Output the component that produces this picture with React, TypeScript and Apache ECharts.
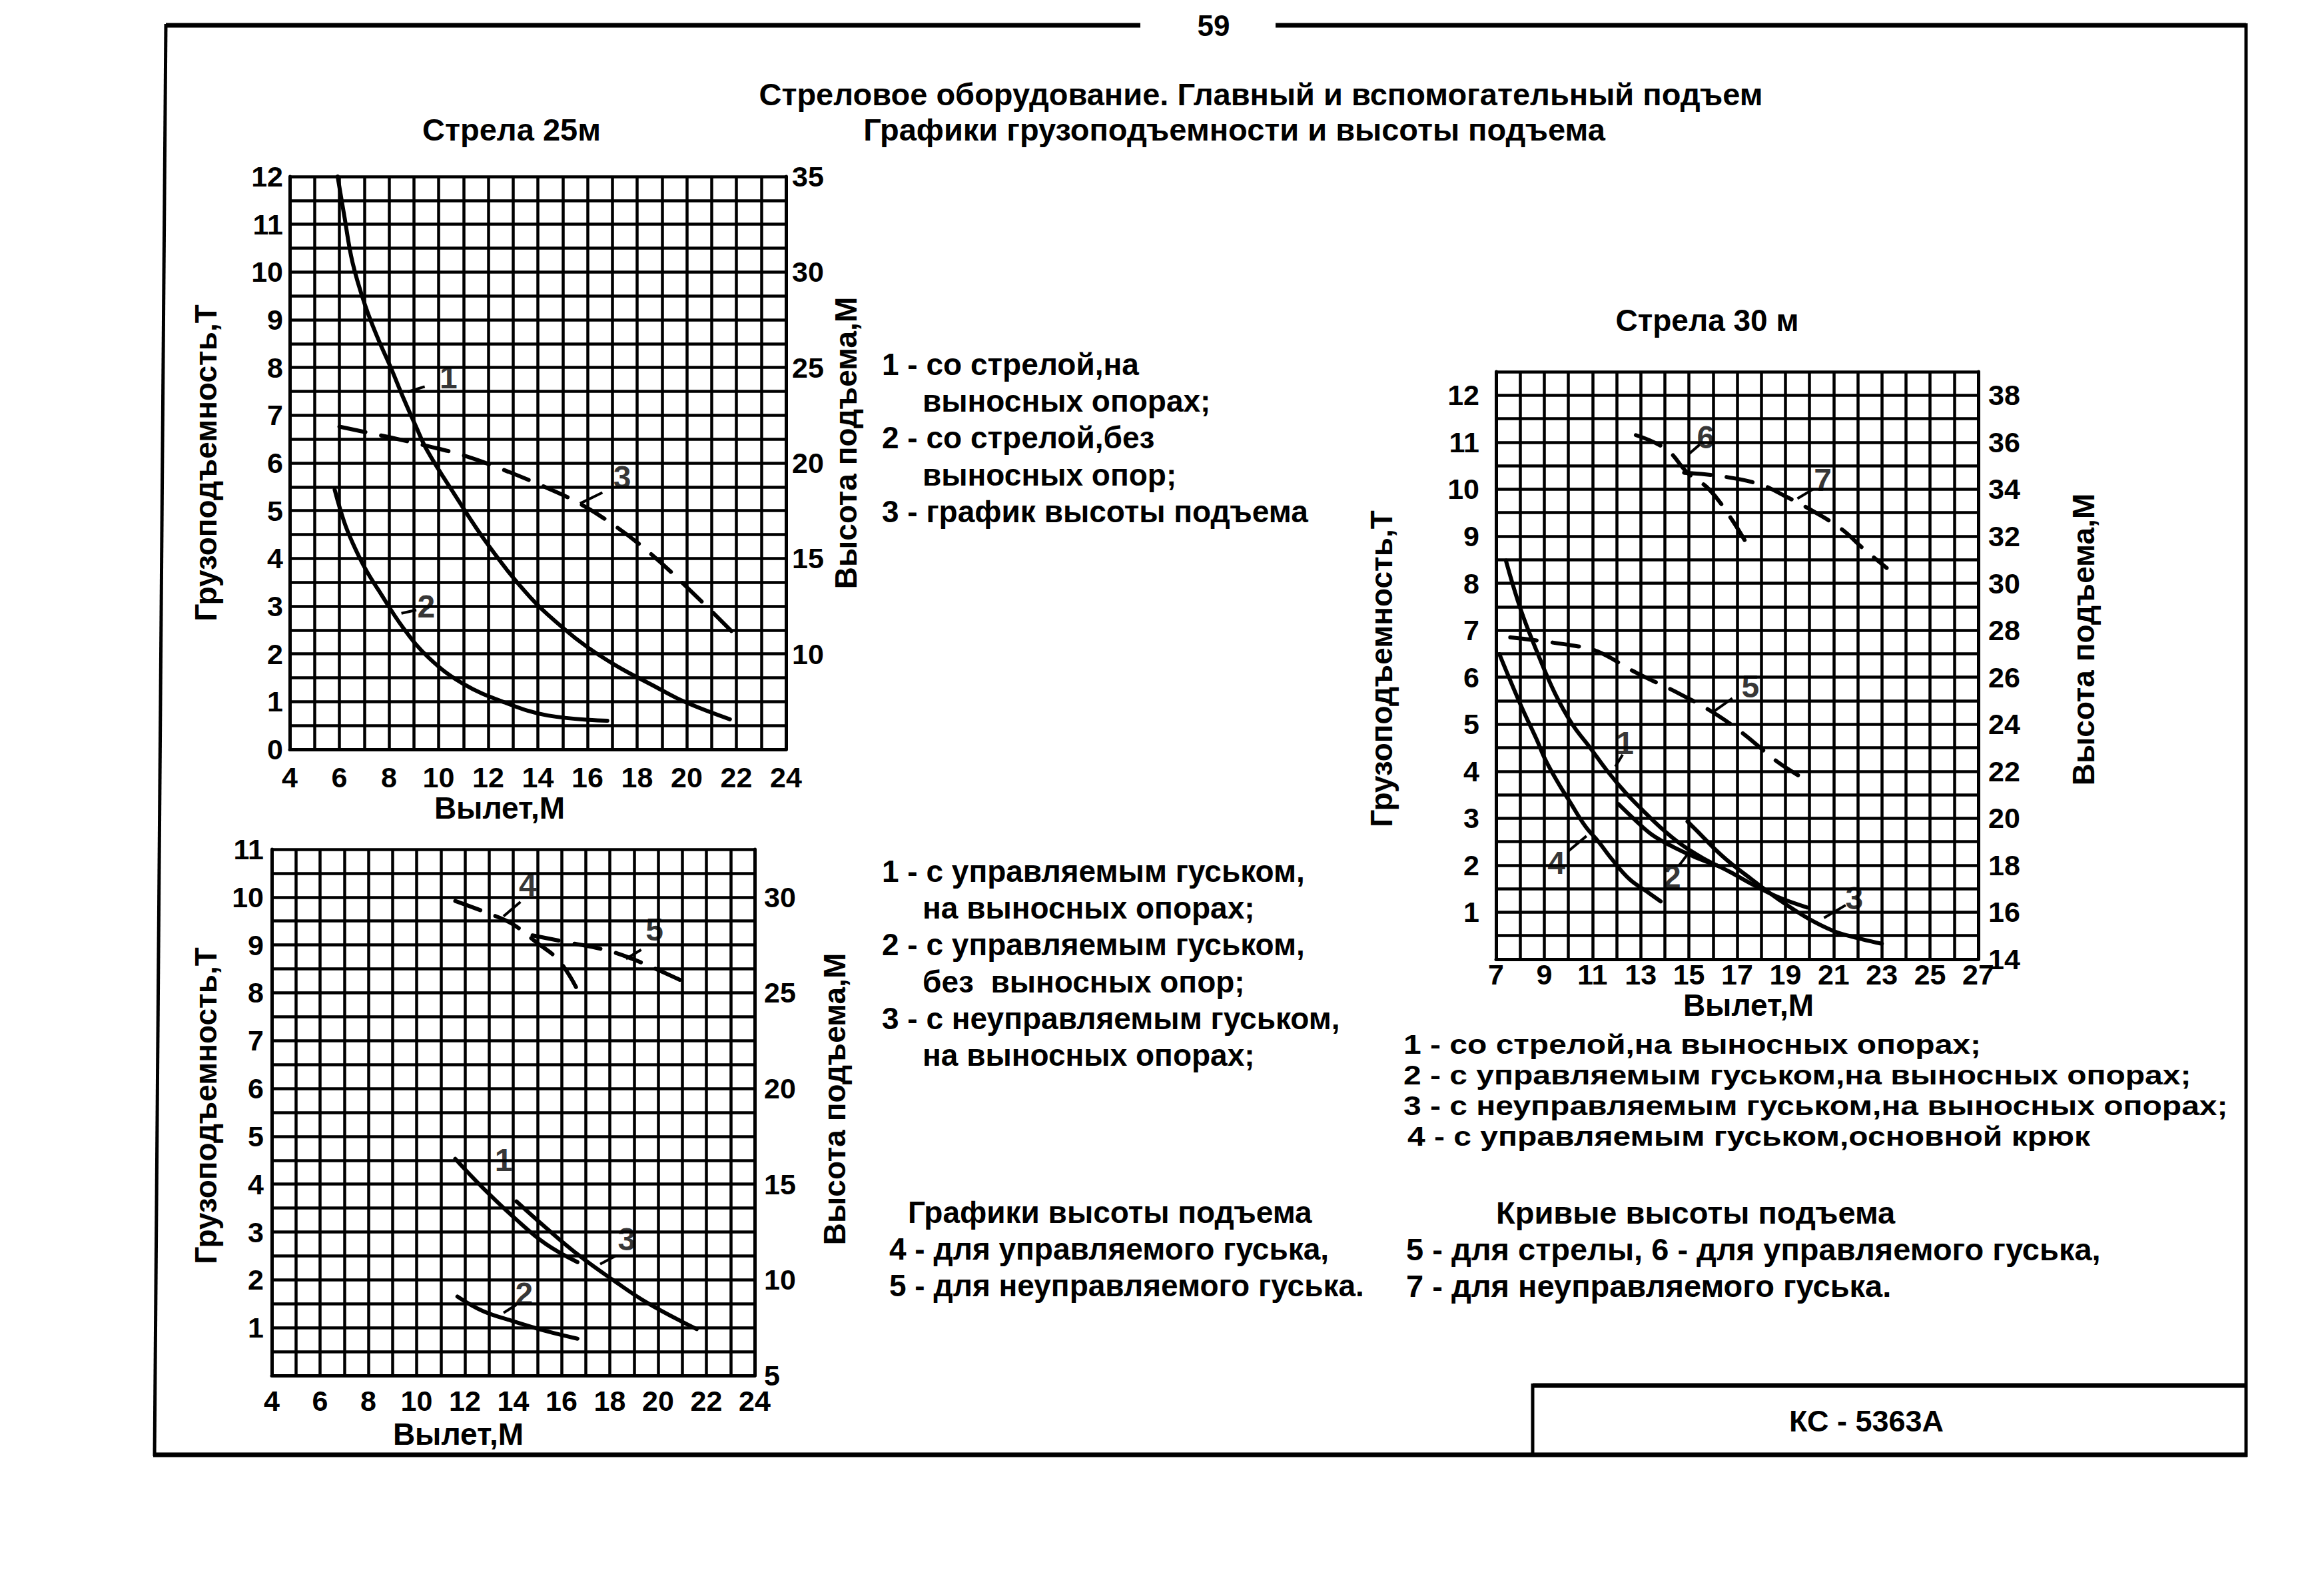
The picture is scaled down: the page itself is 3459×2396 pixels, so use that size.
import React, { useEffect, useRef } from "react";
import * as echarts from "echarts";

const FONT = '"Liberation Sans", Arial, Helvetica, sans-serif';

// ---------------- Chart 1: Стрела 25м (x: вылет, м; left: т; right: высота, м) ----------------
const c1Load1 = [[5.93, 12.0], [6.19, 11.2], [6.53, 10.2], [7.04, 9.3], [7.56, 8.6], [8.07, 8.0], [8.58, 7.36], [9.09, 6.76], [9.55, 6.25], [10.63, 5.35], [12.0, 4.28], [13.7, 3.18], [15.0, 2.55], [16.0, 2.14], [17.2, 1.74], [18.6, 1.35], [19.9, 1.0], [21.74, 0.63]];
const c1Load2 = [[5.81, 5.44], [6.19, 4.77], [6.53, 4.33], [7.04, 3.79], [7.56, 3.35], [8.58, 2.54], [9.6, 1.92], [10.97, 1.38], [12.68, 0.98], [14.4, 0.71], [16.8, 0.6]];
const c1Height3 = [[6.0, 21.9], [8.0, 21.35], [9.5, 20.9], [11.0, 20.4], [12.5, 19.7], [14.0, 18.9], [15.5, 18.0], [17.0, 16.8], [18.5, 15.3], [20.0, 13.5], [21.8, 11.2]];
const c1Marks = [{ t: "1", x: 10.4, y: 7.8 }, { t: "2", x: 9.5, y: 3.0 }, { t: "3", x: 17.4, y: 5.7 }];
const c1Leaders = [[[8.75, 7.49], [9.44, 7.6]], [[8.5, 2.85], [9.1, 2.92]], [[15.7, 5.15], [16.6, 5.38]]];

// ---------------- Chart 2: гусёк (bottom left) ----------------
const c2Load1 = [[11.6, 4.53], [12.73, 3.93], [14.13, 3.26], [15.35, 2.75], [16.66, 2.37]];
const c2Load2 = [[11.69, 1.65], [12.73, 1.35], [13.96, 1.14], [15.35, 0.93], [16.66, 0.77]];
const c2Load3 = [[14.13, 3.64], [15.35, 3.09], [16.75, 2.5], [18.15, 1.99], [19.55, 1.52], [21.6, 0.97]];
const c2Height4 = [[11.6, 29.8], [13.08, 29.1], [13.96, 28.6], [15.0, 27.6], [15.88, 26.7], [16.6, 25.3]];
const c2Height5 = [[14.8, 28.0], [16.4, 27.6], [17.62, 27.3], [18.67, 26.9], [19.9, 26.25], [21.2, 25.5]];
const c2Marks = [{ t: "4", x: 14.6, y: 10.25 }, { t: "5", x: 19.85, y: 9.32 }, { t: "1", x: 13.6, y: 4.5 }, { t: "2", x: 14.45, y: 1.7 }, { t: "3", x: 18.7, y: 2.85 }];
const c2Leaders = [[[13.6, 9.6], [14.3, 9.9]], [[18.67, 8.71], [19.3, 8.9]], [[13.6, 1.31], [14.13, 1.48]], [[17.6, 2.33], [18.24, 2.5]]];

// ---------------- Chart 3: Стрела 30 м ----------------
const c3Load1 = [[7.41, 8.48], [8.03, 7.43], [8.74, 6.49], [9.45, 5.65], [10.16, 5.0], [10.9, 4.5], [11.62, 4.0], [12.36, 3.55], [13.1, 3.16], [13.83, 2.8], [14.66, 2.45], [15.58, 2.15], [16.69, 1.86], [17.6, 1.6], [18.7, 1.32], [19.9, 1.1]];
const c3Load2 = [[12.08, 3.3], [12.73, 2.98], [13.46, 2.65], [14.38, 2.38], [15.4, 2.14], [16.4, 1.95]];
const c3Load3 = [[14.94, 2.93], [15.49, 2.65], [16.04, 2.36], [16.69, 2.06], [17.6, 1.7], [18.7, 1.28], [19.9, 0.88], [21.0, 0.6], [22.0, 0.45], [23.0, 0.33]];
const c3Load4 = [[7.14, 6.49], [8.03, 5.4], [8.68, 4.68], [9.04, 4.25], [9.6, 3.73], [10.06, 3.35], [10.7, 2.83], [11.25, 2.5], [11.8, 2.13], [12.54, 1.7], [13.28, 1.43], [13.83, 1.23]];
const c3Height5 = [[7.59, 27.7], [10.16, 27.35], [11.2, 27.1], [12.8, 26.2], [14.6, 25.3], [16.0, 24.5], [17.25, 23.6], [18.67, 22.4], [19.9, 21.6]];
const c3Height6 = [[12.8, 36.3], [14.06, 35.7], [14.94, 34.7], [15.83, 34.0], [16.72, 32.8], [17.5, 31.5]];
const c3Height7 = [[14.8, 34.7], [16.36, 34.55], [17.96, 34.2], [19.0, 33.7], [20.09, 33.1], [21.33, 32.3], [22.2, 31.5], [23.2, 30.65]];
const c3Marks = [{ t: "1", x: 12.35, y: 4.6 }, { t: "2", x: 14.3, y: 1.75 }, { t: "3", x: 21.86, y: 1.29 }, { t: "4", x: 9.5, y: 2.05 }, { t: "5", x: 17.55, y: 5.8 }, { t: "6", x: 15.7, y: 11.1 }, { t: "7", x: 20.55, y: 10.2 }];
const c3Leaders = [[[11.95, 4.1], [12.25, 4.35]], [[14.6, 2.0], [15.0, 2.27]], [[20.6, 0.88], [21.5, 1.15]], [[10.0, 2.3], [10.75, 2.62]], [[16.0, 5.26], [16.8, 5.55]], [[15.0, 10.75], [15.45, 10.95]], [[19.5, 9.8], [20.15, 10.0]]];

// ---------------- texts ----------------
const legendA = ["1 - со стрелой,на", "выносных опорах;", "2 - со стрелой,без", "выносных опор;", "3 - график высоты подъема"];
const legendB = ["1 - с управляемым гуськом,", "на выносных опорах;", "2 - с управляемым гуськом,", "без  выносных опор;", "3 - с неуправляемым гуськом,", "на выносных опорах;"];
const legendC = ["Графики высоты подъема", "4 - для управляемого гуська,", "5 - для неуправляемого гуська."];
const legendD = ["1 - со стрелой,на выносных опорах;", "2 - с управляемым гуськом,на выносных опорах;", "3 - с неуправляемым гуськом,на выносных опорах;", "4 - с управляемым гуськом,основной крюк"];
const legendE = ["Кривые высоты подъема", "5 - для стрелы, 6 - для управляемого гуська,", "7 - для неуправляемого гуська."];

const BLACK = "#000";
const GRID_W = 4.5;
const CURVE_W = 6;

function txt(text: string, x: number, y: number, opts: any = {}) {
  const align = opts.align || "left";
  return {
    type: "text",
    x,
    y,
    rotation: opts.rotation || 0,
    scaleX: opts.scaleX || 1,
    scaleY: 1,
    silent: true,
    style: {
      text,
      fill: BLACK,
      fontSize: opts.size || 46,
      lineHeight: 40,
      fontWeight: "bold",
      fontFamily: FONT,
      align,
      textAlign: align,
      verticalAlign: "middle",
      textVerticalAlign: "middle",
    },
  };
}

function ln(x1: number, y1: number, x2: number, y2: number, w: number) {
  return { type: "line", silent: true, shape: { x1, y1, x2, y2 }, style: { stroke: BLACK, lineWidth: w } };
}

function xAx(gridIndex: number, min: number, max: number, margin: number) {
  return {
    type: "value",
    gridIndex,
    min,
    max,
    interval: 2,
    axisLine: { show: true, onZero: false, lineStyle: { color: BLACK, width: 5 } },
    axisTick: { show: false },
    axisLabel: { color: BLACK, fontSize: 43, lineHeight: 36, fontWeight: "bold", fontFamily: FONT, margin },
    splitLine: { show: true, lineStyle: { color: BLACK, width: GRID_W } },
    minorTick: { show: false, splitNumber: 2 },
    minorSplitLine: { show: true, lineStyle: { color: BLACK, width: GRID_W } },
  };
}

function yAx(gridIndex: number, position: string, min: number, max: number, interval: number, margin: number, fmt: (v: number) => string, split: boolean, minor: boolean) {
  return {
    type: "value",
    gridIndex,
    position,
    min,
    max,
    interval,
    axisLine: { show: true, onZero: false, lineStyle: { color: BLACK, width: 5 } },
    axisTick: { show: false },
    axisLabel: { color: BLACK, fontSize: 43, lineHeight: 36, fontWeight: "bold", fontFamily: FONT, margin, formatter: fmt },
    splitLine: { show: split, lineStyle: { color: BLACK, width: GRID_W } },
    minorTick: { show: false, splitNumber: 2 },
    minorSplitLine: { show: minor, lineStyle: { color: BLACK, width: GRID_W } },
  };
}

function curve(data: number[][], xi: number, yi: number, dashed: boolean) {
  return {
    type: "line",
    xAxisIndex: xi,
    yAxisIndex: yi,
    data,
    smooth: 0.4,
    symbol: "none",
    silent: true,
    z: 5,
    lineStyle: { color: BLACK, width: CURVE_W, type: dashed ? [40, 24] : "solid", cap: "round" },
  };
}

function marks(list: { t: string; x: number; y: number }[], xi: number, yi: number) {
  return {
    type: "scatter",
    xAxisIndex: xi,
    yAxisIndex: yi,
    symbolSize: 1,
    silent: true,
    z: 6,
    itemStyle: { color: "rgba(0,0,0,0)" },
    data: list.map((m) => ({ value: [m.x, m.y], name: m.t })),
    label: { show: true, position: "inside", formatter: "{b}", color: BLACK, fontSize: 48, lineHeight: 40, fontWeight: "bold", fontFamily: FONT },
  };
}

function leaders(list: number[][][], xi: number, yi: number) {
  return list.map((seg) => ({
    type: "line",
    xAxisIndex: xi,
    yAxisIndex: yi,
    data: seg,
    symbol: "none",
    silent: true,
    z: 5,
    lineStyle: { color: BLACK, width: 4 },
  }));
}

function buildOption() {
  const plain = (v: number) => String(v);
  const graphic: any[] = [];

  // document frame
  graphic.push(ln(249, 38, 1712, 38, 7));
  graphic.push(ln(1915, 38, 3372, 38, 7));
  graphic.push(ln(249, 36, 232, 2186, 5));
  graphic.push(ln(230, 2184, 3374, 2184, 7));
  graphic.push(ln(3372, 35, 3372, 2187, 5));
  graphic.push(ln(2301, 2080, 3372, 2080, 7));
  graphic.push(ln(2301, 2077, 2301, 2184, 5));
  graphic.push(txt("59", 1822, 38, { align: "center", size: 44 }));
  graphic.push(txt("КС - 5363А", 2802, 2133, { align: "center", size: 45 }));

  // titles
  graphic.push(txt("Стреловое оборудование. Главный и вспомогательный подъем", 1893, 141, { align: "center", size: 47 }));
  graphic.push(txt("Графики грузоподъемности и высоты подъема", 1853, 194, { align: "center", size: 47 }));
  graphic.push(txt("Стрела 25м", 768, 194, { align: "center", size: 47 }));
  graphic.push(txt("Стрела 30 м", 2563, 481, { align: "center", size: 46 }));

  // axis names
  const R = Math.PI / 2;
  graphic.push(txt("Грузоподъемность,Т", 309, 695, { align: "center", rotation: R }));
  graphic.push(txt("Высота подъема,М", 1270, 665, { align: "center", rotation: R }));
  graphic.push(txt("Вылет,М", 750, 1213, { align: "center" }));
  graphic.push(txt("Грузоподъемность,Т", 309, 1660, { align: "center", rotation: R }));
  graphic.push(txt("Высота подъема,М", 1253, 1650, { align: "center", rotation: R }));
  graphic.push(txt("Вылет,М", 688, 2153, { align: "center" }));
  graphic.push(txt("Грузоподъемность,Т", 2074, 1004, { align: "center", rotation: R }));
  graphic.push(txt("Высота подъема,М", 3128, 960, { align: "center", rotation: R }));
  graphic.push(txt("Вылет,М", 2625, 1509, { align: "center" }));

  // legends
  const aX = [1324, 1385, 1324, 1385, 1324];
  const aY = [547, 602, 657, 713, 768];
  legendA.forEach((s, i) => graphic.push(txt(s, aX[i], aY[i])));
  const bX = [1324, 1385, 1324, 1385, 1324, 1385];
  const bY = [1308, 1363, 1418, 1474, 1529, 1584];
  legendB.forEach((s, i) => graphic.push(txt(s, bX[i], bY[i])));
  const cX = [1363, 1335, 1335];
  const cY = [1820, 1875, 1930];
  legendC.forEach((s, i) => graphic.push(txt(s, cX[i], cY[i])));
  const dX = [2107, 2107, 2107, 2113];
  const dY = [1568, 1614, 1660, 1706];
  legendD.forEach((s, i) => graphic.push(txt(s, dX[i], dY[i], { size: 40, scaleX: 1.2 })));
  const eX = [2246, 2111, 2111];
  const eY = [1820, 1875, 1930];
  legendE.forEach((s, i) => graphic.push(txt(s, eX[i], eY[i], { size: 47 })));

  return {
    animation: false,
    backgroundColor: "#fff",
    grid: [
      { left: 435, top: 265, width: 745, height: 860 },
      { left: 408, top: 1275, width: 725, height: 790 },
      { left: 2246, top: 558, width: 724, height: 882 },
    ],
    xAxis: [xAx(0, 4, 24, 24), xAx(1, 4, 24, 20), xAx(2, 7, 27, 5)],
    yAxis: [
      yAx(0, "left", 0, 12, 1, 10, plain, true, true),
      yAx(0, "right", 5, 35, 5, 9, (v) => (v === 5 ? "" : String(v)), false, false),
      yAx(1, "left", 0, 11, 1, 12, (v) => (v === 0 ? "" : String(v)), true, true),
      yAx(1, "right", 5, 32.5, 5, 14, (v) => (v % 5 === 0 ? String(v) : ""), false, false),
      yAx(2, "left", 0, 12.5, 1, 25, (v) => (v === 0 || v % 1 !== 0 ? "" : String(v)), false, false),
      yAx(2, "right", 14, 39, 1, 15, (v) => (v % 2 === 0 && v <= 38 ? String(v) : ""), true, false),
    ],
    series: [
      curve(c1Load1, 0, 0, false),
      curve(c1Load2, 0, 0, false),
      curve(c1Height3, 0, 1, true),
      marks(c1Marks, 0, 0),
      ...leaders(c1Leaders, 0, 0),

      curve(c2Load1, 1, 2, false),
      curve(c2Load2, 1, 2, false),
      curve(c2Load3, 1, 2, false),
      curve(c2Height4, 1, 3, true),
      curve(c2Height5, 1, 3, true),
      marks(c2Marks, 1, 2),
      ...leaders(c2Leaders, 1, 2),

      curve(c3Load1, 2, 4, false),
      curve(c3Load2, 2, 4, false),
      curve(c3Load3, 2, 4, false),
      curve(c3Load4, 2, 4, false),
      curve(c3Height5, 2, 5, true),
      curve(c3Height6, 2, 5, true),
      curve(c3Height7, 2, 5, true),
      marks(c3Marks, 2, 4),
      ...leaders(c3Leaders, 2, 4),
    ],
    graphic,
  };
}

export default function App() {
  const ref = useRef<HTMLDivElement>(null);
  useEffect(() => {
    document.body.style.margin = "0";
    const chart = echarts.init(ref.current as HTMLDivElement, null, { renderer: "svg" });
    chart.setOption(buildOption() as any);
    return () => chart.dispose();
  }, []);
  return <div ref={ref} style={{ width: 3459, height: 2396, background: "#fff" }} />;
}
